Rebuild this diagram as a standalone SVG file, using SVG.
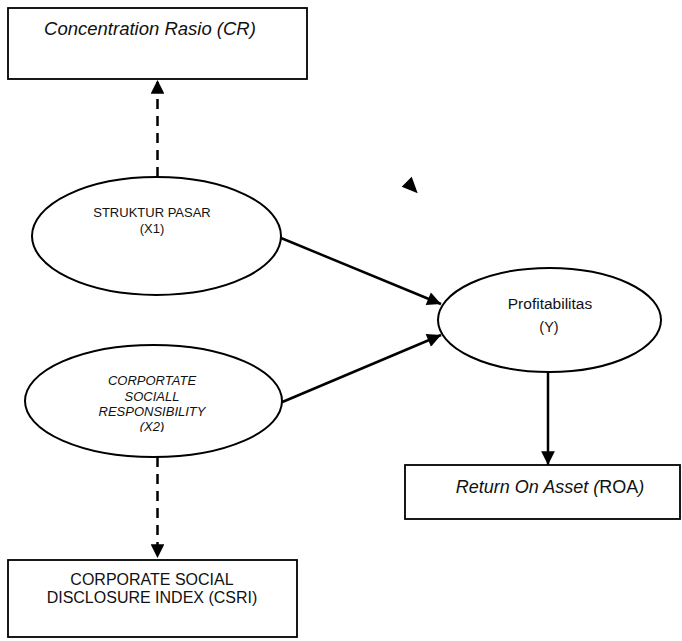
<svg xmlns="http://www.w3.org/2000/svg" width="682" height="641" viewBox="0 0 682 641">
<style>
.box{fill:#fff;stroke:#000;stroke-width:1.8}
.ell{fill:#fff;stroke:#000;stroke-width:2}
.t{font-family:"Liberation Sans",Arial,sans-serif;fill:#111;text-anchor:middle}
.it{font-style:italic}
.ln{stroke:#000;stroke-width:2.5;fill:none}
.dash{stroke-dasharray:10 7}
</style>
<defs>
<marker id="ah" viewBox="0 0 10 10" refX="10" refY="5" markerWidth="6" markerHeight="5.5" markerUnits="strokeWidth" orient="auto">
<path d="M0,0 L10,5 L0,10 Z" fill="#000"/>
</marker>
<clipPath id="clipX2"><rect x="0" y="340" width="300" height="92"/></clipPath>
</defs>
<rect width="682" height="641" fill="#fff"/>
<g id="connectors">
<line class="ln dash" x1="157.5" y1="177" x2="157.5" y2="80" marker-end="url(#ah)"/>
<line class="ln dash" x1="157.5" y1="457" x2="157.5" y2="558" marker-end="url(#ah)"/>
<line class="ln" x1="281" y1="238" x2="441" y2="304" marker-end="url(#ah)"/>
<line class="ln" x1="280" y1="403" x2="441" y2="335" marker-end="url(#ah)"/>
<line class="ln" x1="548" y1="372" x2="548" y2="465" marker-end="url(#ah)"/>
<polygon points="401.7,186.7 411.7,176.7 417.7,193.3" fill="#000"/>
</g>
<g id="node-cr">
<rect class="box" x="8" y="8" width="299" height="71"/>
<text class="t it" x="150" y="35" font-size="18.5">Concentration Rasio (CR)</text>
</g>
<g id="node-x1">
<ellipse class="ell" cx="156.5" cy="236" rx="124.5" ry="59"/>
<text class="t" x="152" y="217" font-size="13">STRUKTUR PASAR</text>
<text class="t" x="152" y="233" font-size="13">(X1)</text>
</g>
<g id="node-x2">
<ellipse class="ell" cx="153.5" cy="401" rx="128.5" ry="56"/>
<g clip-path="url(#clipX2)">
<text class="t it" x="152" y="385" font-size="13">CORPORTATE</text>
<text class="t it" x="152" y="401" font-size="13">SOCIALL</text>
<text class="t it" x="152" y="416" font-size="13">RESPONSIBILITY</text>
<text class="t it" x="152" y="431" font-size="13">(X2)</text>
</g>
</g>
<g id="node-y">
<ellipse class="ell" cx="549.5" cy="320" rx="111.5" ry="52"/>
<text class="t" x="550" y="309" font-size="15.5">Profitabilitas</text>
<text class="t" x="549" y="332" font-size="14.5">(Y)</text>
</g>
<g id="node-roa">
<rect class="box" x="405" y="465" width="275" height="54"/>
<text class="t it" x="550" y="493" font-size="18">Return On Asset (<tspan font-style="normal">ROA</tspan>)</text>
</g>
<g id="node-csri">
<rect class="box" x="8" y="560" width="289" height="77"/>
<text class="t" x="152" y="585" font-size="16">CORPORATE SOCIAL</text>
<text class="t" x="152" y="603" font-size="16">DISCLOSURE INDEX (CSRI)</text>
</g>
</svg>
